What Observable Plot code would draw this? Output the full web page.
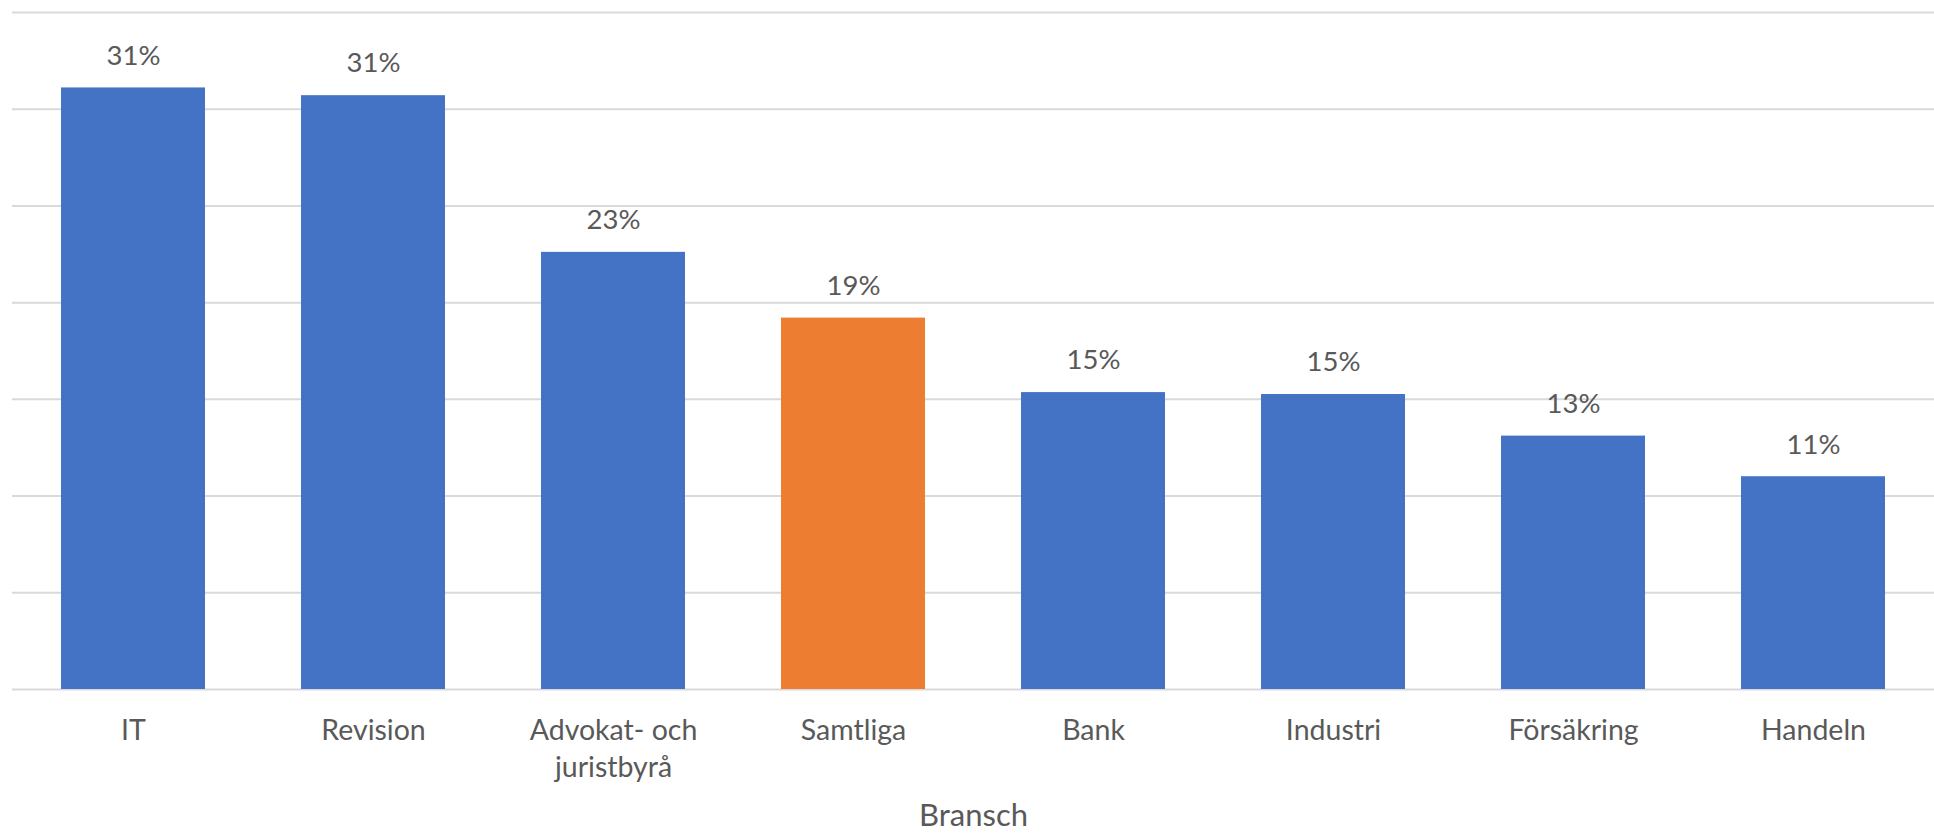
<!DOCTYPE html>
<html>
<head>
<meta charset="utf-8">
<script src="https://cdn.jsdelivr.net/npm/d3@7"></script>
<script src="https://cdn.jsdelivr.net/npm/@observablehq/plot@0.6"></script>
<style>
  html, body { margin: 0; padding: 0; background: #fff; }
  #chart svg { display: block; }
</style>
</head>
<body>
<div id="chart"></div>
<script>
const categories = ["IT", "Revision", "Advokat- och\njuristbyrå", "Samtliga", "Bank", "Industri", "Försäkring", "Handeln"];
const values = [31.1, 30.7, 22.6, 19.2, 15.35, 15.25, 13.1, 11.0];
const highlight = "Samtliga";
const gridTicks = [0, 5, 10, 15, 20, 25, 30, 35];
const axisTitle = "Bransch";

const data = categories.map((c, i) => ({cat: c, value: values[i]}));
const font = "Lato, 'Open Sans', sans-serif";
const textColor = "#595959";

const chart = Plot.plot({
  width: 1934,
  height: 835,
  marginTop: 12,
  marginBottom: 146,
  marginLeft: 12,
  marginRight: 0,
  style: {fontFamily: font, background: "#fff"},
  x: {domain: categories, paddingInner: 0.4, paddingOuter: 0.2, axis: null},
  y: {domain: [0, 35], axis: null},
  marks: [
    Plot.ruleY(gridTicks, {stroke: "#d9d9d9", strokeWidth: 2}),
    Plot.barY(data, {x: "cat", y: "value", fill: d => d.cat === highlight ? "#ED7D31" : "#4472C4"}),
    Plot.text(data, {x: "cat", y: "value", text: d => Math.round(d.value) + "%", dy: -32, lineAnchor: "middle", fontSize: 27.5, fill: textColor}),
    Plot.text(data, {x: "cat", y: 0, text: "cat", dy: 24, lineAnchor: "top", lineHeight: 1.3, fontSize: 28.5, fill: textColor}),
    Plot.text([axisTitle], {frameAnchor: "bottom", text: d => d, dy: 127, lineAnchor: "middle", fontSize: 31, fill: textColor})
  ]
});
document.getElementById("chart").appendChild(chart);
</script>
</body>
</html>
